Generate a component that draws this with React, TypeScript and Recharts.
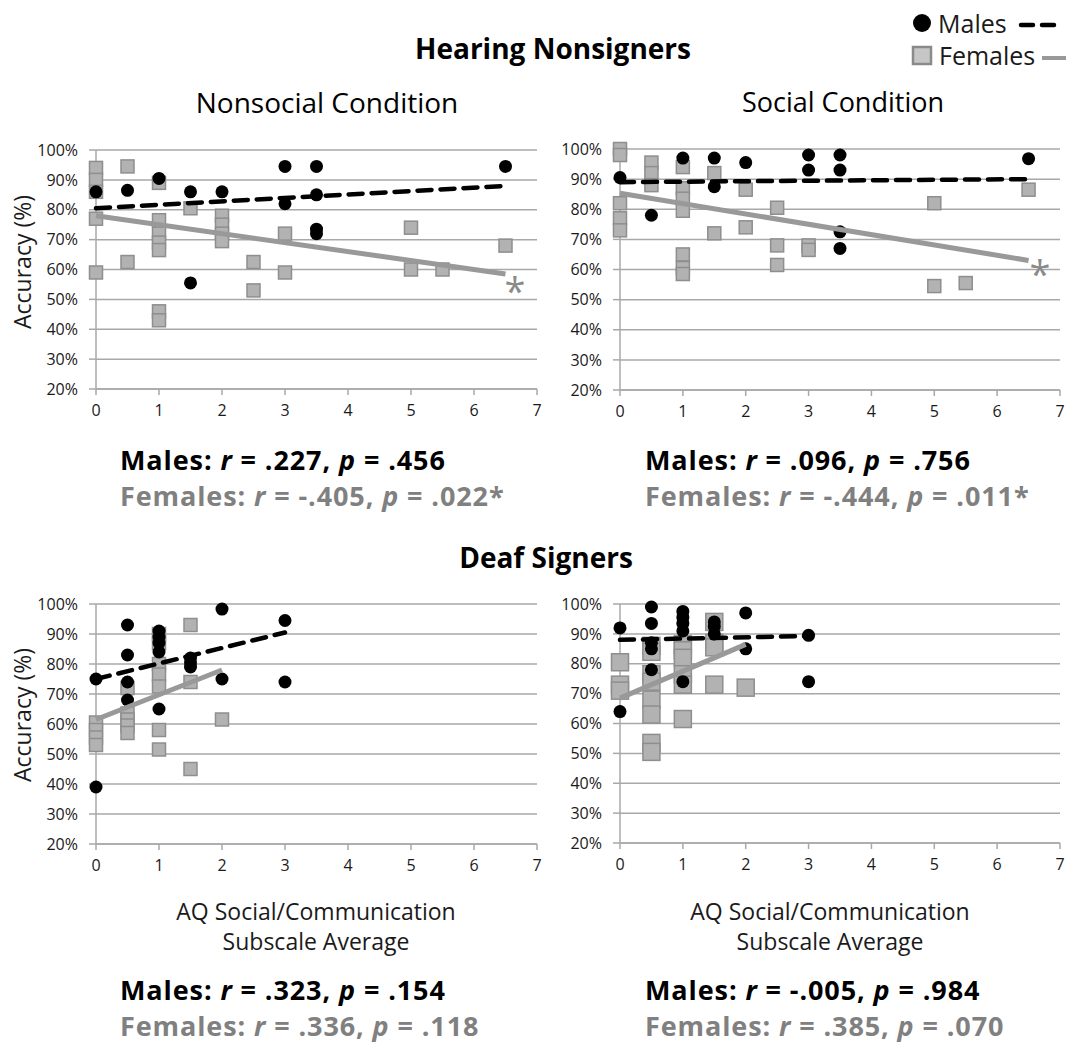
import React from 'react';
import { CartesianGrid, Scatter, ScatterChart, XAxis, YAxis } from 'recharts';

type Pair = [number, number];

const xTicks = [0, 1, 2, 3, 4, 5, 6, 7];
const yTicks = [20, 30, 40, 50, 60, 70, 80, 90, 100];

// Hearing nonsigners, nonsocial condition
const hearNonsocialMales: Pair[] = [
  [0, 86], [0.5, 86.5], [1, 90.5], [1.5, 86], [1.5, 55.5], [2, 86], [3, 94.5], [3, 82],
  [3.5, 94.5], [3.5, 85], [3.5, 73.5], [3.5, 72], [6.5, 94.5],
];
const hearNonsocialFemales: Pair[] = [
  [0, 94], [0, 90], [0, 86], [0, 77], [0, 59], [0.5, 94.5], [0.5, 62.5], [1, 89], [1, 76.5],
  [1, 72], [1, 69], [1, 66.5], [1, 46], [1, 43], [1.5, 80.5], [2, 78], [2, 75], [2, 72],
  [2, 69.5], [2.5, 62.5], [2.5, 53], [3, 72], [3, 59], [5, 74], [5, 60], [5.5, 60], [6.5, 68],
];
const hearNonsocialMaleTrend: Pair[] = [[0, 80.5], [6.5, 88]];
const hearNonsocialFemaleTrend: Pair[] = [[0, 78], [6.5, 58.5]];
const hearNonsocialStar: Pair[] = [[6.65, 54.8]];

// Hearing nonsigners, social condition
const hearSocialMales: Pair[] = [
  [0, 90.5], [0.5, 78], [1, 97], [1.5, 97], [1.5, 87.5], [2, 95.5], [3, 98], [3, 93],
  [3.5, 98], [3.5, 93], [3.5, 72.5], [3.5, 67], [6.5, 96.8],
];
const hearSocialFemales: Pair[] = [
  [0, 100], [0, 98], [0, 82], [0, 77], [0, 73], [0.5, 95.5], [0.5, 92], [0.5, 88], [1, 94],
  [1, 87], [1, 83.5], [1, 79.5], [1, 65], [1, 60.5], [1, 58.5], [1.5, 92], [1.5, 72],
  [2, 86.5], [2, 74], [2.5, 80.5], [2.5, 68], [2.5, 61.5], [3, 68], [3, 66.5], [5, 82],
  [5, 54.5], [5.5, 55.5], [6.5, 86.5],
];
const hearSocialMaleTrend: Pair[] = [[0, 89], [6.5, 90]];
const hearSocialFemaleTrend: Pair[] = [[0, 85.3], [6.5, 63]];
const hearSocialStar: Pair[] = [[6.68, 60.5]];

// Deaf signers, nonsocial condition
const deafNonsocialMales: Pair[] = [
  [0, 75], [0, 39], [0.5, 93], [0.5, 83], [0.5, 74], [0.5, 68], [1, 91], [1, 89], [1, 87],
  [1, 84], [1, 65], [1.5, 82], [1.5, 80.5], [1.5, 79], [2, 98.3], [2, 75], [3, 94.5], [3, 74],
];
const deafNonsocialFemales: Pair[] = [
  [0, 60.5], [0, 58], [0, 55.5], [0, 53], [0.5, 72], [0.5, 63.5], [0.5, 61.5], [0.5, 59.5],
  [0.5, 57], [1, 90], [1, 87], [1, 80], [1, 76.5], [1, 72.5], [1, 58], [1, 51.5], [1.5, 93],
  [1.5, 74], [1.5, 45], [2, 61.5],
];
const deafNonsocialMaleTrend: Pair[] = [[0, 75], [3, 90.5]];
const deafNonsocialFemaleTrend: Pair[] = [[0, 61.5], [2, 78]];

// Deaf signers, social condition
const deafSocialMales: Pair[] = [
  [0, 92], [0, 64], [0.5, 99], [0.5, 93.5], [0.5, 87], [0.5, 85], [0.5, 78], [1, 97.5],
  [1, 95.5], [1, 93.5], [1, 91], [1, 74], [1.5, 94], [1.5, 92.5], [1.5, 90], [2, 97], [2, 85],
  [3, 89.5], [3, 74],
];
const deafSocialFemales: Pair[] = [
  [0, 80.5], [0, 73], [0, 71], [0.5, 86], [0.5, 84], [0.5, 76.5], [0.5, 74], [0.5, 68],
  [0.5, 63], [0.5, 53.5], [0.5, 50.5], [1, 86.5], [1, 84.5], [1, 82], [1, 76.5], [1, 73],
  [1, 61.5], [1.5, 94], [1.5, 87], [1.5, 85.5], [1.5, 73], [2, 72],
];
const deafSocialMaleTrend: Pair[] = [[0, 88], [3, 89.3]];
const deafSocialFemaleTrend: Pair[] = [[0, 68.5], [2, 86.5]];

const FONT = '"Open Sans", "Noto Sans", sans-serif';
const GRID = '#a8a8a8';
const FEMALE_LINE = '#999999';
const STATS_GRAY = '#808080';

const toPts = (pairs: Pair[]) => pairs.map(([x, y]) => ({ x, y }));

const Dot = (p: any) => <circle cx={p.cx} cy={p.cy} r={6.5} fill="#000" />;
const makeSquare = (size: number) => (p: any) => (
  <rect
    x={p.cx - size / 2}
    y={p.cy - size / 2}
    width={size}
    height={size}
    fill="#b2b2b2"
    stroke="#8e8e8e"
    strokeWidth={1.5}
  />
);
const NoMark = () => <g />;
const Star = (p: any) => (
  <text x={p.cx} y={p.cy + 20} textAnchor="middle" fontSize={38} fill="#8a8a8a" fontFamily={FONT}>
    *
  </text>
);

type PanelProps = {
  plotLeft: number;
  plotTop: number;
  plotRight: number;
  plotBottom: number;
  males: Pair[];
  females: Pair[];
  maleTrend: Pair[];
  femaleTrend: Pair[];
  star?: Pair[];
  squareSize?: number;
};

function Panel({ plotLeft, plotTop, plotRight, plotBottom, males, females, maleTrend, femaleTrend, star, squareSize = 13 }: PanelProps) {
  const yw = 90;
  const left = plotLeft - yw;
  const top = plotTop - 20;
  const width = plotRight - left + 6;
  const height = plotBottom - top + 45;
  return (
    <div style={{ position: 'absolute', left, top }}>
      <ScatterChart width={width} height={height} margin={{ top: 20, right: 6, bottom: 15, left: 0 }}>
        <CartesianGrid vertical={false} stroke={GRID} strokeWidth={1.5} />
        <XAxis
          type="number"
          dataKey="x"
          domain={[0, 7]}
          ticks={xTicks}
          height={30}
          stroke={GRID}
          strokeWidth={1.5}
          tickSize={6}
          tickMargin={10}
          tick={{ fill: '#1a1a1a', fontSize: 16, fontFamily: FONT }}
        />
        <YAxis
          type="number"
          dataKey="y"
          domain={[20, 100]}
          ticks={yTicks}
          width={yw}
          stroke={GRID}
          strokeWidth={1.5}
          tickSize={7}
          tickMargin={11}
          tickFormatter={(v: number) => `${v}%`}
          tick={{ fill: '#1a1a1a', fontSize: 16, fontFamily: FONT }}
        />
        <Scatter data={toPts(females)} shape={makeSquare(squareSize)} isAnimationActive={false} />
        <Scatter data={toPts(males)} shape={Dot} isAnimationActive={false} />
        <Scatter
          data={toPts(femaleTrend)}
          shape={NoMark}
          line={{ stroke: FEMALE_LINE, strokeWidth: 5 }}
          isAnimationActive={false}
        />
        <Scatter
          data={toPts(maleTrend)}
          shape={NoMark}
          line={{ stroke: '#000', strokeWidth: 4.5, strokeDasharray: '14 9', strokeLinecap: 'round' }}
          isAnimationActive={false}
        />
        {star && <Scatter data={toPts(star)} shape={Star} isAnimationActive={false} />}
      </ScatterChart>
    </div>
  );
}

const txt = (left: number, top: number, size: number, extra: React.CSSProperties = {}): React.CSSProperties => ({
  position: 'absolute',
  left,
  top,
  fontSize: size,
  lineHeight: `${size}px`,
  whiteSpace: 'nowrap',
  fontFamily: FONT,
  ...extra,
});

function Stats({ left, top, male, female }: { left: number; top: number; male: [string, string]; female: [string, string] }) {
  const s: React.CSSProperties = { fontWeight: 700, letterSpacing: 0.9 };
  return (
    <>
      <div style={txt(left, top, 27, { ...s, color: '#000' })}>
        Males: <i>r</i> = {male[0]}, <i>p</i> = {male[1]}
      </div>
      <div style={txt(left, top + 36, 27, { ...s, color: STATS_GRAY })}>
        Females: <i>r</i> = {female[0]}, <i>p</i> = {female[1]}
      </div>
    </>
  );
}

function YLabel({ cy }: { cy: number }) {
  return (
    <div style={txt(22, cy, 23, { transform: 'translate(-50%, -50%) rotate(-90deg)', color: '#1a1a1a' })}>
      Accuracy (%)
    </div>
  );
}

function XLabel({ cx }: { cx: number }) {
  return (
    <div style={txt(cx, 896, 23, { transform: 'translateX(-50%)', textAlign: 'center', lineHeight: '30px', color: '#1a1a1a' })}>
      AQ Social/Communication
      <br />
      Subscale Average
    </div>
  );
}

export default function App() {
  return (
    <div style={{ position: 'absolute', left: 0, top: 0, width: 1066, height: 1044, background: '#fff', overflow: 'hidden', fontFamily: FONT }}>
      <div style={txt(553, 34, 28, { fontWeight: 700, transform: 'translateX(-50%)' })}>Hearing Nonsigners</div>
      <div style={txt(327, 88, 28, { transform: 'translateX(-50%)' })}>Nonsocial Condition</div>
      <div style={txt(843, 88, 27, { transform: 'translateX(-50%)' })}>Social Condition</div>
      <div style={txt(546, 543, 28, { fontWeight: 700, transform: 'translateX(-50%)' })}>Deaf Signers</div>

      <svg style={{ position: 'absolute', left: 890, top: 0 }} width={176} height={80}>
        <circle cx={32} cy={23} r={9} fill="#000" />
        <text x={48} y={33} fontSize={25} fontFamily={FONT} fill="#1a1a1a">Males</text>
        <line x1={131} y1={25} x2={172} y2={25} stroke="#000" strokeWidth={4.5} strokeDasharray="12 9" strokeLinecap="round" />
        <rect x={23} y={47} width={18} height={17} fill="#c6c6c6" stroke="#8a8a8a" strokeWidth={2.5} />
        <text x={49} y={65} fontSize={25} fontFamily={FONT} fill="#1a1a1a">Females</text>
        <line x1={152} y1={58} x2={176} y2={58} stroke={FEMALE_LINE} strokeWidth={4} />
      </svg>

      <YLabel cy={262} />
      <YLabel cy={715} />

      <Panel plotLeft={96} plotTop={150} plotRight={537} plotBottom={389}
        males={hearNonsocialMales} females={hearNonsocialFemales}
        maleTrend={hearNonsocialMaleTrend} femaleTrend={hearNonsocialFemaleTrend} star={hearNonsocialStar} />
      <Panel plotLeft={620} plotTop={149} plotRight={1060} plotBottom={390}
        males={hearSocialMales} females={hearSocialFemales}
        maleTrend={hearSocialMaleTrend} femaleTrend={hearSocialFemaleTrend} star={hearSocialStar} />
      <Panel plotLeft={96} plotTop={604} plotRight={537} plotBottom={844}
        males={deafNonsocialMales} females={deafNonsocialFemales}
        maleTrend={deafNonsocialMaleTrend} femaleTrend={deafNonsocialFemaleTrend} />
      <Panel plotLeft={620} plotTop={604} plotRight={1060} plotBottom={843}
        males={deafSocialMales} females={deafSocialFemales}
        maleTrend={deafSocialMaleTrend} femaleTrend={deafSocialFemaleTrend} squareSize={17} />

      <Stats left={120} top={446} male={['.227', '.456']} female={['-.405', '.022*']} />
      <Stats left={645} top={446} male={['.096', '.756']} female={['-.444', '.011*']} />

      <XLabel cx={316} />
      <XLabel cx={830} />

      <Stats left={120} top={976} male={['.323', '.154']} female={['.336', '.118']} />
      <Stats left={645} top={976} male={['-.005', '.984']} female={['.385', '.070']} />
    </div>
  );
}
